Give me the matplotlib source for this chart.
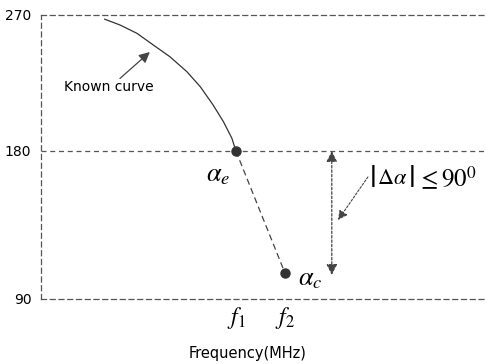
import numpy as np
import matplotlib
matplotlib.use('Agg')
import matplotlib.pyplot as plt

plt.rcParams['mathtext.fontset'] = 'stix'

# known phase curve (frequency in arbitrary units, phase in degrees)
curve_f = [1.43, 1.77, 2.15, 2.52, 2.89, 3.27, 3.57, 3.86, 4.09, 4.28, 4.37]
curve_phase = [267.2, 263.4, 257.9, 250.1, 242.4, 232.5, 222.6, 210.4, 199.4, 188.4, 180.0]

f1, f2 = 4.37, 5.47
alpha_e = 180.0
alpha_c = 105.8
yticks = [90, 180, 270]
xtick_labels = [r'$f_1$', r'$f_2$']

gray = '#444444'

# the drawing is not to scale: upper and lower halves of the axis differ
def fwd(y):
    return np.interp(y, [90, 180, 270], [0, 148, 284])

def inv(v):
    return np.interp(v, [0, 148, 284], [90, 180, 270])


fig = plt.figure(figsize=(4.87, 3.64), dpi=100)
ax = fig.add_axes([41 / 487, 65 / 364, 1 - 41 / 487, 284 / 364])
ax.set_yscale('function', functions=(fwd, inv))
ax.set_xlim(0, 10)
ax.set_ylim(90, 270)

for s in ['left', 'top', 'bottom']:
    ax.spines[s].set_linestyle((0, (4, 3)))
    ax.spines[s].set_color('#555555')
    ax.spines[s].set_linewidth(0.9)
ax.spines['right'].set_visible(False)
ax.axhline(180, color='#555555', ls=(0, (4, 3)), lw=0.9)

ax.set_yticks(yticks)
ax.set_yticklabels([str(t) for t in yticks], fontsize=10)
ax.set_xticks([f1, f2])
ax.set_xticklabels(xtick_labels, fontsize=17)
ax.tick_params(length=0, pad=7)
ax.tick_params(axis='x', pad=4)
ax.minorticks_off()

ax.set_xlabel('Frequency(MHz)', fontsize=10.5)
ax.xaxis.set_label_coords((248 - 41) / 446, -0.165)

ax.plot(curve_f, curve_phase, color='#333333', lw=0.9)
ax.plot([f1, f2], [alpha_e, alpha_c], color=gray, lw=0.9, ls=(0, (5, 3)))
ax.plot([f1, f2], [alpha_e, alpha_c], 'o', color='#333333', ms=6.5)

ax.text(1.53, 222.4, 'Known curve', fontsize=10, ha='center', va='center')
ax.annotate('', xy=(2.44, 245.5), xytext=(1.77, 228),
            arrowprops=dict(arrowstyle='-|>', color=gray, lw=0.9,
                            mutation_scale=16, shrinkA=0, shrinkB=0))

ax.text(3.96, 166, r'$\alpha_e$', fontsize=19, ha='center', va='center')
ax.text(6.03, 102.5, r'$\alpha_c$', fontsize=19, ha='center', va='center')

# phase difference bracket
ax.annotate('', xy=(6.52, 104.6), xytext=(6.52, 180),
            arrowprops=dict(arrowstyle='<|-|>', color=gray, lw=0.9,
                            ls=(0, (2, 1.5)), mutation_scale=16,
                            shrinkA=0, shrinkB=0))
ty = 163.6
ax.text(7.42, ty, r'$|$', fontsize=24, ha='center', va='center')
ax.text(7.53, ty, r'$\Delta\alpha$', fontsize=16, ha='left', va='center')
ax.text(8.30, ty, r'$|$', fontsize=24, ha='center', va='center')
ax.text(8.42, ty, r'$\leq 90^0$', fontsize=18, ha='left', va='center')
ax.annotate('', xy=(6.66, 138), xytext=(7.33, 164.2),
            arrowprops=dict(arrowstyle='-|>', color=gray, lw=0.8,
                            ls=(0, (2, 1.5)), mutation_scale=14,
                            shrinkA=0, shrinkB=0))

fig.savefig('out.png', dpi=100)
